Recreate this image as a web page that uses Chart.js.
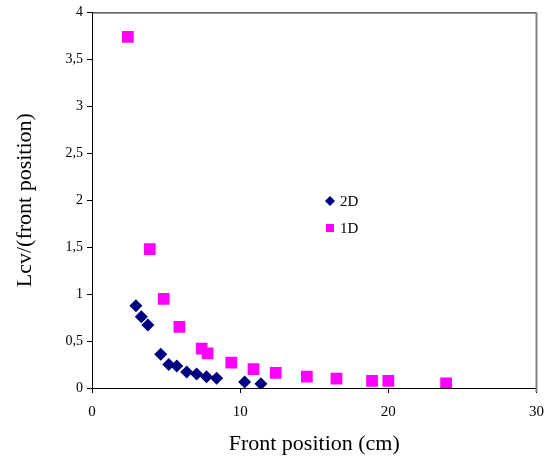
<!DOCTYPE html>
<html>
<head>
<meta charset="utf-8">
<script src="https://cdn.jsdelivr.net/npm/chart.js@4/dist/chart.umd.min.js"></script>
<style>
html,body{margin:0;padding:0;background:#fff;}
#wrap{width:554px;height:459px;position:relative;}
</style>
</head>
<body>
<div id="wrap"><canvas id="c" width="554" height="459"></canvas></div>
<script>
const seriesNames = ["2D", "1D"];
const x2D = [2.96, 3.33, 3.77, 4.64, 5.18, 5.72, 6.39, 7.06, 7.73, 8.41, 10.3, 11.4];
const y2D = [0.875, 0.76, 0.67, 0.36, 0.25, 0.235, 0.17, 0.15, 0.12, 0.105, 0.065, 0.045];
const x1D = [2.42, 3.9, 4.84, 5.9, 7.4, 7.8, 9.4, 10.9, 12.4, 14.5, 16.5, 18.9, 20.0, 23.9];
const y1D = [3.74, 1.48, 0.95, 0.65, 0.42, 0.37, 0.27, 0.20, 0.16, 0.12, 0.10, 0.075, 0.075, 0.05];
const xTicks = [0, 10, 20, 30];
const yTicks = [0, 0.5, 1, 1.5, 2, 2.5, 3, 3.5, 4];
const xTitle = "Front position (cm)";
const yTitle = "Lcv/(front position)";

const toPts = (xs, ys) => xs.map((x, i) => ({x: x, y: ys[i]}));
const FONT = "'Liberation Serif', 'Times New Roman', serif";

const legendPlugin = {
  id: 'insideLegend',
  afterDraw(chart) {
    const ctx = chart.ctx;
    ctx.save();
    ctx.font = "15px " + FONT;
    ctx.textBaseline = 'middle';
    chart.data.datasets.forEach((ds, i) => {
      const cy = 201 + i * 27;
      const cx = 330;
      ctx.fillStyle = ds.backgroundColor;
      ctx.beginPath();
      if (ds.pointStyle === 'rectRot') {
        const r = 5;
        ctx.moveTo(cx, cy - r); ctx.lineTo(cx + r, cy); ctx.lineTo(cx, cy + r); ctx.lineTo(cx - r, cy);
        ctx.closePath();
      } else {
        ctx.rect(cx - 4, cy - 4, 8, 8);
      }
      ctx.fill();
      ctx.fillStyle = '#000';
      ctx.fillText(ds.label, 340, cy + 1);
    });
    ctx.restore();
  }
};

const framePlugin = {
  id: 'frame',
  afterDraw(chart) {
    const a = chart.chartArea, ctx = chart.ctx;
    ctx.save();
    ctx.lineWidth = 1;
    ctx.strokeStyle = '#000';
    ctx.beginPath();
    ctx.moveTo(a.left, a.top + 0.5); ctx.lineTo(a.right, a.top + 0.5);
    ctx.stroke();
    ctx.strokeStyle = '#808080';
    ctx.lineWidth = 2;
    ctx.beginPath();
    ctx.moveTo(a.right, a.top); ctx.lineTo(a.right, a.bottom + 4);
    ctx.stroke();
    ctx.restore();
  }
};

new Chart(document.getElementById('c'), {
  type: 'scatter',
  data: {
    datasets: [
      {label: seriesNames[0], data: toPts(x2D, y2D), pointStyle: 'rectRot', pointRadius: 6.5,
       backgroundColor: '#000080', borderColor: '#000080', borderWidth: 0, pointHoverRadius: 6.5},
      {label: seriesNames[1], data: toPts(x1D, y1D), pointStyle: 'rect', pointRadius: 8.3,
       backgroundColor: '#FF00FF', borderColor: '#FF00FF', borderWidth: 0, pointHoverRadius: 8.3}
    ]
  },
  options: {
    responsive: false,
    animation: false,
    layout: {padding: {top: 12, right: 16, left: 0, bottom: 0}},
    plugins: {legend: {display: false}, tooltip: {enabled: false}},
    scales: {
      x: {
        type: 'linear', min: 0, max: 30,
        afterBuildTicks: (s) => { s.ticks = xTicks.map(v => ({value: v})); },
        afterFit: (s) => { s.height = 71; },
        grid: {display: true, drawOnChartArea: false, drawTicks: true, tickLength: 5, color: '#000'},
        border: {display: true, color: '#000', width: 1},
        ticks: {color: '#000', font: {family: FONT, size: 15}, padding: 10, maxRotation: 0,
                callback: (v) => String(v)},
        title: {display: true, text: xTitle, color: '#000', font: {family: FONT, size: 22}, padding: {top: 10, bottom: 2}}
      },
      y: {
        type: 'linear', min: 0, max: 4,
        afterBuildTicks: (s) => { s.ticks = yTicks.map(v => ({value: v})); },
        afterFit: (s) => { s.width = 92; },
        grid: {display: true, drawOnChartArea: false, drawTicks: true, tickLength: 5, color: '#000'},
        border: {display: true, color: '#000', width: 1},
        ticks: {color: '#000', font: {family: FONT, size: 14}, padding: 4,
                callback: (v) => String(v).replace('.', ',')},
        title: {display: true, text: yTitle, color: '#000', font: {family: FONT, size: 22}, padding: {top: 12, bottom: 0}}
      }
    }
  },
  plugins: [legendPlugin, framePlugin]
});
</script>
</body>
</html>
